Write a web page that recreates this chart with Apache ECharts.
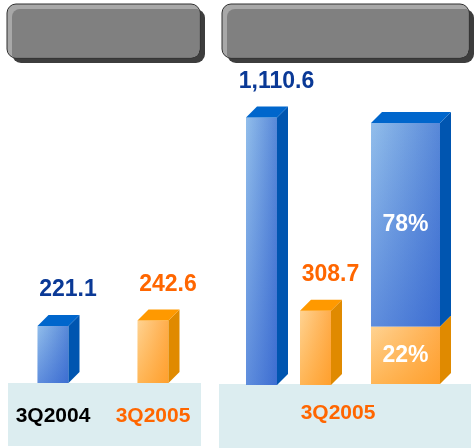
<!DOCTYPE html>
<html>
<head>
<meta charset="utf-8">
<script src="https://cdn.jsdelivr.net/npm/echarts@6/dist/echarts.min.js"></script>
<style>
  html, body { margin: 0; padding: 0; background: #fff; }
  #chart { width: 474px; height: 448px; }
</style>
</head>
<body>
<div id="chart"></div>
<script>
// values
const leftCats = ['3Q2004', '3Q2005'];
const leftValues = [221.1, 242.6];
const leftTones = ['blue', 'orange'];

const rightCat = '3Q2005';
const rightValues = [1110.6, 308.7];
const rightTones = ['blue', 'orange'];

const stackShares = [22, 78];          // bottom -> top, in %
const stackTones = ['orange', 'blue'];

const FONT = "'Liberation Sans', Arial, sans-serif";
const DEPTH = 11;
const PAL = {
  blue:   { a: '#92beeb', b: '#5888d8', shade: 'rgba(20,70,200,', top: '#0066cc', side: '#0055b0', label: '#0a3996' },
  orange: { a: '#ffd392', b: '#ffad4c', shade: 'rgba(255,140,0,', top: '#ff9900', side: '#e08a00', label: '#ff6600' }
};

const fmt = v => v.toLocaleString('en-US', { minimumFractionDigits: 1, maximumFractionDigits: 1 });

// draws one 3D block between value lo and hi
function block(api, tone, width, withTop) {
  const base = api.coord([api.value(0), api.value(1)]);
  const top = api.coord([api.value(0), api.value(2)]);
  const p = PAL[tone];
  const x0 = base[0] - width / 2, x1 = base[0] + width / 2;
  const yB = base[1], yT = top[1], d = DEPTH;
  const kids = [
    { type: 'rect', shape: { x: x0, y: yT, width: width, height: yB - yT },
      style: { fill: new echarts.graphic.LinearGradient(0, 0, 1, 0, [
        { offset: 0, color: p.a }, { offset: 1, color: p.b }]) } },
    { type: 'rect', shape: { x: x0, y: yT, width: width, height: yB - yT },
      style: { fill: new echarts.graphic.LinearGradient(0, 0, 0, 1, [
        { offset: 0, color: p.shade + '0)' }, { offset: 1, color: p.shade + '0.4)' }]) } },
    { type: 'polygon', shape: { points: [[x1, yT], [x1 + d, yT - d], [x1 + d, yB - d], [x1, yB]] },
      style: { fill: p.side } }
  ];
  if (withTop) {
    kids.push({ type: 'polygon', shape: { points: [[x0, yT], [x0 + d, yT - d], [x1 + d, yT - d], [x1, yT]] },
      style: { fill: p.top } });
  }
  return { kids, cx: base[0], yT, yB };
}

function simpleBars(tones) {
  return function (params, api) {
    const tone = tones[params.dataIndex];
    const b = block(api, tone, 31, true);
    b.kids.push({ type: 'text', x: b.cx + 15, y: b.yT - 36,
      style: { text: fmt(api.value(2)), fill: PAL[tone].label, font: 'bold 23px ' + FONT,
        align: 'center', verticalAlign: 'middle' } });
    return { type: 'group', children: b.kids };
  };
}

function stackBar(params, api) {
  const i = params.dataIndex;
  const b = block(api, stackTones[i], 69, i === stackShares.length - 1);
  b.kids.push({ type: 'text', x: b.cx, y: (b.yT + b.yB) / 2,
    style: { text: stackShares[i] + '%', fill: '#fff', font: 'bold 23px ' + FONT,
      align: 'center', verticalAlign: 'middle' } });
  return { type: 'group', children: b.kids };
}

let acc = 0;
const stackData = stackShares.map(s => { const r = [0, acc, acc + s]; acc += s; return r; });

function header(x, y, w, h) {
  return {
    type: 'group', children: [
      { type: 'rect', shape: { x: x + 5, y: y + 5, width: w, height: h, r: 9 }, style: { fill: '#3d3d3d' } },
      { type: 'rect', shape: { x: x, y: y, width: w, height: h, r: 9 }, style: { fill: '#a8a8a8', stroke: '#2e2e2e', lineWidth: 1 } },
      { type: 'rect', shape: { x: x + 5, y: y + 5, width: w - 5.5, height: h - 5.5, r: [8, 2, 8, 2] }, style: { fill: '#808080' } }
    ]
  };
}

const hiddenY = max => ({ min: 0, max: max, show: false });
const hiddenX = (idx, data) => ({ type: 'category', gridIndex: idx, data: data, show: false });

const chart = echarts.init(document.getElementById('chart'), null, { renderer: 'canvas' });
chart.setOption({
  animation: false,
  graphic: [
    header(7, 4, 193, 54),
    header(222, 4, 247, 54),
    { type: 'rect', z: -1, shape: { x: 8, y: 383, width: 193, height: 63 }, style: { fill: '#dcedf0' } },
    { type: 'rect', z: -1, shape: { x: 219, y: 384, width: 252, height: 64 }, style: { fill: '#dcedf0' } },
    { type: 'text', z: 10, x: 338, y: 413,
      style: { text: rightCat, fill: '#ff6600', font: 'bold 21px ' + FONT, align: 'center', verticalAlign: 'middle' } }
  ],
  grid: [
    { left: 3, width: 200, top: 125, bottom: 65 },
    { left: 234.5, width: 108, top: 96, bottom: 63 },
    { left: 361, width: 89, top: 123, bottom: 64 }
  ],
  xAxis: [
    { type: 'category', gridIndex: 0, data: leftCats, z: 10,
      axisLine: { show: false }, axisTick: { show: false },
      axisLabel: { margin: 23, fontFamily: FONT, fontSize: 21, fontWeight: 'bold',
        color: (v, i) => (i === 0 ? '#000' : '#ff6600') } },
    hiddenX(1, rightValues.map(() => rightCat)),
    hiddenX(2, [rightCat])
  ],
  yAxis: [
    Object.assign({ gridIndex: 0 }, hiddenY(1000)),
    Object.assign({ gridIndex: 1 }, hiddenY(1200)),
    Object.assign({ gridIndex: 2 }, hiddenY(100))
  ],
  series: [
    { type: 'custom', xAxisIndex: 0, yAxisIndex: 0, encode: { x: 0, y: [1, 2] },
      renderItem: simpleBars(leftTones), data: leftValues.map((v, i) => [i, 0, v]) },
    { type: 'custom', xAxisIndex: 1, yAxisIndex: 1, encode: { x: 0, y: [1, 2] },
      renderItem: simpleBars(rightTones), data: rightValues.map((v, i) => [i, 0, v]) },
    { type: 'custom', xAxisIndex: 2, yAxisIndex: 2, encode: { x: 0, y: [1, 2] },
      renderItem: stackBar, data: stackData }
  ]
});
</script>
</body>
</html>
